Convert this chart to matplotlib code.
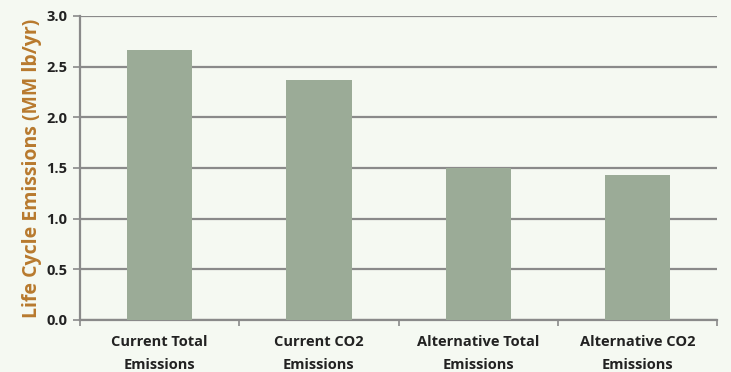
import matplotlib.pyplot as plt
import numpy as np

# 排放类别与对应的生命周期排放量 (MM lb/yr)
categories = ['Current Total\nEmissions', 'Current CO2\nEmissions',
              'Alternative Total\nEmissions', 'Alternative CO2\nEmissions']
emissions = [2.66, 2.37, 1.50, 1.43]
y_ticks = [0.0, 0.5, 1.0, 1.5, 2.0, 2.5, 3.0]

plt.rcParams['font.family'] = ['Open Sans', 'DejaVu Sans']

bg = '#f5f9f2'
fig = plt.figure(figsize=(7.31, 3.72), dpi=100, facecolor=bg)
ax = fig.add_axes([0.1094, 0.1398, 0.8716, 0.8172], facecolor=bg)

x = np.arange(len(categories))
ax.bar(x, emissions, width=0.41, color='#9bab97', zorder=3)

# 网格线
ax.set_ylim(0, 3.0)
ax.set_yticks(y_ticks)
ax.set_yticklabels(['%.1f' % v for v in y_ticks], fontsize=10.5, fontweight='bold', color='#222222')
ax.yaxis.grid(True, color='#8a8a8a', linewidth=1.6, zorder=0)

# x轴刻度放在类别之间
ax.set_xlim(-0.5, len(categories) - 0.5)
ax.set_xticks(x)
ax.set_xticklabels(categories, fontsize=10.5, fontweight='bold', color='#222222',
                   linespacing=1.75)
ax.tick_params(axis='x', length=0, pad=11)
ax.set_xticks(np.arange(len(categories) + 1) - 0.5, minor=True)
ax.tick_params(axis='x', which='minor', length=4, color='#8a8a8a', width=1.2)
ax.tick_params(axis='y', length=5, color='#8a8a8a', width=1.2, pad=4)

for side in ['top', 'right']:
    ax.spines[side].set_visible(False)
for side in ['left', 'bottom']:
    ax.spines[side].set_color('#8a8a8a')
    ax.spines[side].set_linewidth(1.6)

ax.set_ylabel('Life Cycle Emissions (MM lb/yr)', fontsize=14, fontweight='bold',
              color='#b87a2e', labelpad=3)

fig.savefig('out.png', dpi=100, facecolor=bg)
